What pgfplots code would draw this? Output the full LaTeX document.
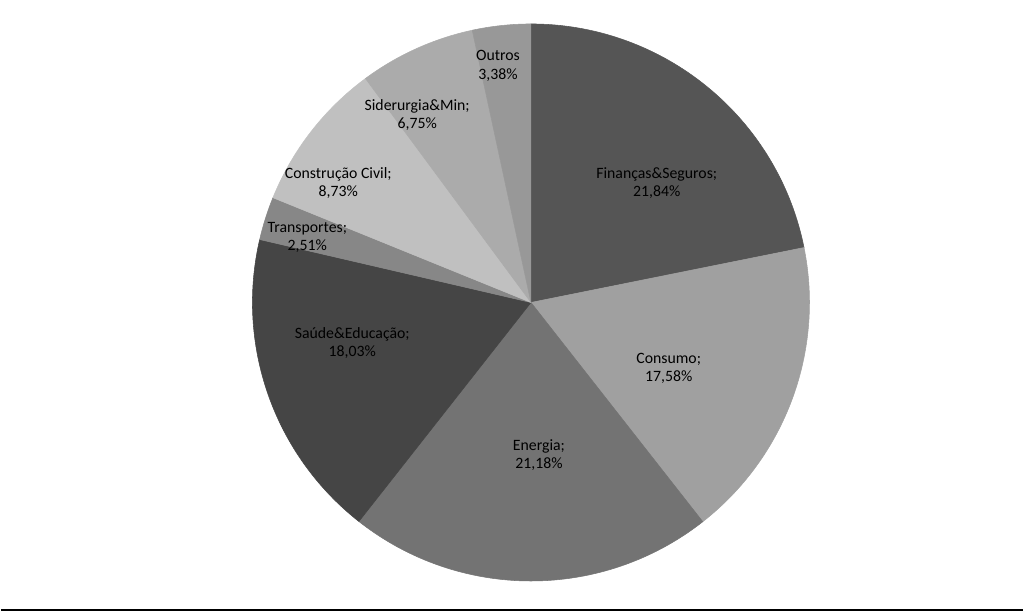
\documentclass[border=0pt]{standalone}
\usepackage{fontspec}
\setmainfont{Carlito}
\usepackage{pgfplots}
\pgfplotsset{compat=1.18}

% slice colours (grey levels)
\definecolor{cFin}{HTML}{555555}
\definecolor{cCon}{HTML}{A0A0A0}
\definecolor{cEne}{HTML}{737373}
\definecolor{cSau}{HTML}{454545}
\definecolor{cTra}{HTML}{878787}
\definecolor{cCiv}{HTML}{C0C0C0}
\definecolor{cSid}{HTML}{ABABAB}
\definecolor{cOut}{HTML}{989898}

\begin{document}
\begin{tikzpicture}
\begin{axis}[
    hide axis,
    scale only axis,
    width=768bp, height=459bp,
    xmin=0, xmax=1024, ymin=0, ymax=612,
    clip=false,
]
\path (axis cs:0,0) rectangle (axis cs:1024,612);

% sectors, clockwise from the top; value in percent
\xdef\start{90}
\foreach \v/\c in {21.84/cFin, 17.58/cCon, 21.18/cEne, 18.03/cSau,
                   2.51/cTra, 8.73/cCiv, 6.75/cSid, 3.38/cOut} {
    \pgfmathsetmacro\en{\start-3.6*\v}
    \edef\temp{\noexpand\filldraw[fill=\c, draw=\c, line width=0.4bp,
        line join=round] (axis cs:531,309) --
        (axis cs:{531+279*cos(\start)},{309+279*sin(\start)})
        arc[start angle=\start, end angle=\en, radius=209.25bp] -- cycle;}
    \temp
    \xdef\start{\en}
}

% data labels
\tikzset{lab/.style={align=center, inner sep=0pt,
    font=\fontsize{11.9}{13.6}\selectfont}}
\node[lab] at (axis cs:657,429) {Finanças\&Seguros;\\21,84\%};
\node[lab] at (axis cs:669,243) {Consumo;\\17,58\%};
\node[lab] at (axis cs:539,156) {Energia;\\21,18\%};
\node[lab] at (axis cs:352,268) {Saúde\&Educação;\\18,03\%};
\node[lab] at (axis cs:307,374) {Transportes;\\2,51\%};
\node[lab] at (axis cs:338,429) {Construção Civil;\\8,73\%};
\node[lab] at (axis cs:417,497) {Siderurgia\&Min;\\6,75\%};
\node[lab] at (axis cs:498,546) {Outros\\3,38\%};

\draw[line width=1.3bp] (axis cs:0,1.3) -- (axis cs:1024,1.3);
\end{axis}
\end{tikzpicture}
\end{document}
